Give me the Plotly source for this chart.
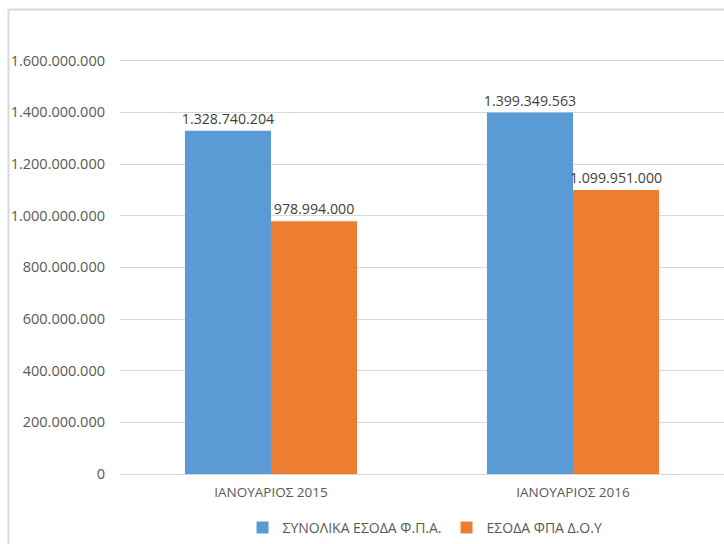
import plotly.graph_objects as go

# data
months = ["ΙΑΝΟΥΑΡΙΟΣ 2015", "ΙΑΝΟΥΑΡΙΟΣ 2016"]
total_vat = [1328740204, 1399349563]
doy_vat = [978994000, 1099951000]

series_names = ["ΣΥΝΟΛΙΚΑ ΕΣΟΔΑ Φ.Π.Α.", "ΕΣΟΔΑ ΦΠΑ Δ.Ο.Υ"]
colors = ["#5B9BD5", "#ED7D31"]

font_family = "Open Sans, Liberation Sans, sans-serif"

fig = go.Figure()
for name, vals, col in zip(series_names, [total_vat, doy_vat], colors):
    fig.add_trace(go.Bar(
        x=months, y=vals, name=name,
        marker=dict(color=col, line=dict(width=0)),
        texttemplate="%{y:,d}", textposition="outside", constraintext="none",
        textfont=dict(size=14.2, color="#404040", family=font_family),
        cliponaxis=False,
    ))

fig.update_layout(
    width=724, height=544,
    margin=dict(l=120, r=0, t=22, b=70),
    paper_bgcolor="white", plot_bgcolor="white",
    separators=",.",
    barmode="group", bargap=0.43, bargroupgap=0,
    font=dict(family=font_family, size=13, color="#595959"),
    legend=dict(orientation="h", x=0.505, xanchor="center", y=-0.12, yanchor="middle",
                font=dict(size=14, color="#595959"), itemwidth=30, traceorder="normal"),
    # light chart frame
    shapes=[
        dict(type="line", xref="paper", yref="paper", x0=-0.1846, x1=1.05, y0=1.0277, y1=1.0277,
             line=dict(color="#d9d9d9", width=2)),
        dict(type="line", xref="paper", yref="paper", x0=-0.1846, x1=-0.1846, y0=1.0277, y1=-0.2,
             line=dict(color="#d9d9d9", width=2)),
    ],
)
fig.update_xaxes(range=[-0.5, 1.5], showgrid=False, showline=False, zeroline=False,
                 tickfont=dict(size=13.5, color="#595959"), ticklabelstandoff=8)
fig.update_yaxes(range=[0, 1.75e9], dtick=2e8, tickformat=",d", showgrid=True,
                 gridcolor="#d9d9d9", gridwidth=1, zeroline=True, zerolinecolor="#d9d9d9",
                 zerolinewidth=1, showline=False, ticklabelstandoff=14,
                 tickfont=dict(size=14.5, color="#595959"))

# drop the default page margin so the figure sits at the window's corner
fig.write_html("out.html", config={"displayModeBar": False},
               post_script="document.body.style.margin='0';document.body.style.overflow='hidden';")
